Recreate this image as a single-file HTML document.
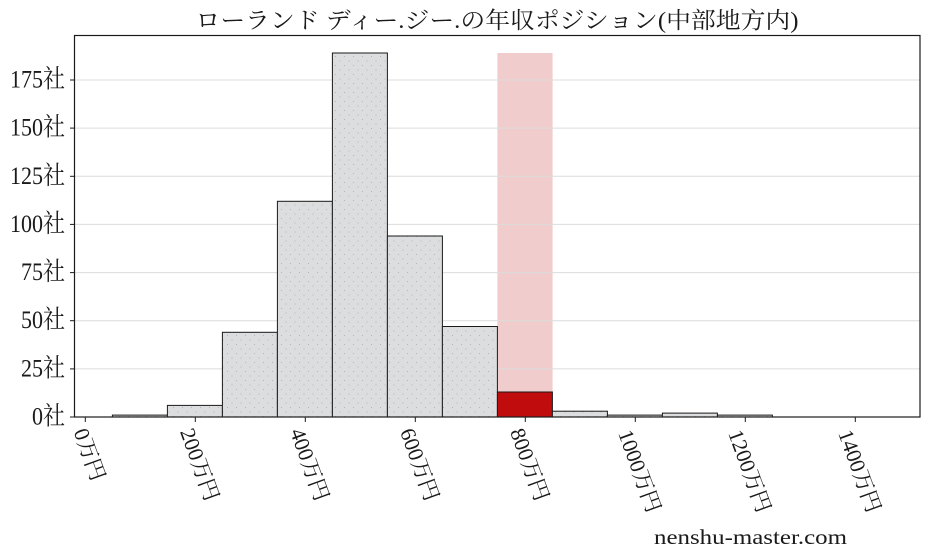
<!DOCTYPE html>
<html>
<head>
<meta charset="utf-8">
<style>
  html, body { margin:0; padding:0; background:#ffffff; }
  svg { display:block; }
  text { font-family: "Liberation Serif", "Noto Serif CJK SC", serif; fill:#1a1a1a; }
</style>
</head>
<body>
<svg width="928" height="557" viewBox="0 0 928 557" xmlns="http://www.w3.org/2000/svg">
  <defs>
    <pattern id="dots" width="9" height="9" patternUnits="userSpaceOnUse">
      <rect width="9" height="9" fill="#dcdddf"/>
      <rect x="2" y="2" width="1" height="1" fill="#b4b5b8"/>
      <rect x="6.5" y="6.5" width="1" height="1" fill="#b4b5b8"/>
    </pattern>
  </defs>

  <!-- title -->
  <text x="497" y="28" font-size="23" text-anchor="middle" textLength="603" lengthAdjust="spacingAndGlyphs">ローランド ディー.ジー.の年収ポジション(中部地方内)</text>

  <!-- highlight span -->
  <rect x="497.4" y="53" width="55.2" height="364" fill="#f0cccc"/>

  <!-- gridlines -->
  <g stroke="#dcdcdc" stroke-width="1">
    <line x1="75" x2="920" y1="368.9" y2="368.9"/>
    <line x1="75" x2="920" y1="320.7" y2="320.7"/>
    <line x1="75" x2="920" y1="272.6" y2="272.6"/>
    <line x1="75" x2="920" y1="224.4" y2="224.4"/>
    <line x1="75" x2="920" y1="176.3" y2="176.3"/>
    <line x1="75" x2="920" y1="128.1" y2="128.1"/>
    <line x1="75" x2="920" y1="80.0" y2="80.0"/>
  </g>

  <!-- bars -->
  <g stroke="#1a1a1a" stroke-width="1">
    <rect x="112.4" y="415.1" width="55" height="1.9" fill="url(#dots)"/>
    <rect x="167.4" y="405.4" width="55" height="11.6" fill="url(#dots)"/>
    <rect x="222.4" y="332.3" width="55" height="84.7" fill="url(#dots)"/>
    <rect x="277.4" y="201.3" width="55" height="215.7" fill="url(#dots)"/>
    <rect x="332.4" y="53.0" width="55" height="364.0" fill="url(#dots)"/>
    <rect x="387.4" y="236.0" width="55" height="181.0" fill="url(#dots)"/>
    <rect x="442.4" y="326.5" width="55" height="90.5" fill="url(#dots)"/>
    <rect x="497.4" y="392.0" width="55" height="25.0" fill="#c00c0c"/>
    <rect x="552.4" y="411.2" width="55" height="5.8" fill="url(#dots)"/>
    <rect x="607.4" y="415.1" width="55" height="1.9" fill="url(#dots)"/>
    <rect x="662.4" y="413.1" width="55" height="3.9" fill="url(#dots)"/>
    <rect x="717.4" y="415.1" width="55" height="1.9" fill="url(#dots)"/>
  </g>

  <!-- axes frame -->
  <rect x="74.5" y="35.5" width="845.5" height="381.5" fill="none" stroke="#1a1a1a" stroke-width="1.2"/>

  <!-- y ticks -->
  <g stroke="#1a1a1a" stroke-width="1">
    <line x1="70" x2="74" y1="417" y2="417"/>
    <line x1="70" x2="74" y1="368.9" y2="368.9"/>
    <line x1="70" x2="74" y1="320.7" y2="320.7"/>
    <line x1="70" x2="74" y1="272.6" y2="272.6"/>
    <line x1="70" x2="74" y1="224.4" y2="224.4"/>
    <line x1="70" x2="74" y1="176.3" y2="176.3"/>
    <line x1="70" x2="74" y1="128.1" y2="128.1"/>
    <line x1="70" x2="74" y1="80.0" y2="80.0"/>
  </g>
  <g font-size="22" text-anchor="end" dominant-baseline="central">
    <text transform="translate(65 417) scale(1 1.15)">0社</text>
    <text transform="translate(65 368.9) scale(1 1.15)">25社</text>
    <text transform="translate(65 320.7) scale(1 1.15)">50社</text>
    <text transform="translate(65 272.6) scale(1 1.15)">75社</text>
    <text transform="translate(65 224.4) scale(1 1.15)">100社</text>
    <text transform="translate(65 176.3) scale(1 1.15)">125社</text>
    <text transform="translate(65 128.1) scale(1 1.15)">150社</text>
    <text transform="translate(65 80.0) scale(1 1.15)">175社</text>
  </g>

  <!-- x ticks -->
  <g stroke="#1a1a1a" stroke-width="1">
    <line x1="85.3" x2="85.3" y1="417" y2="422"/>
    <line x1="195.3" x2="195.3" y1="417" y2="422"/>
    <line x1="305.3" x2="305.3" y1="417" y2="422"/>
    <line x1="415.3" x2="415.3" y1="417" y2="422"/>
    <line x1="525.3" x2="525.3" y1="417" y2="422"/>
    <line x1="635.3" x2="635.3" y1="417" y2="422"/>
    <line x1="745.3" x2="745.3" y1="417" y2="422"/>
    <line x1="855.3" x2="855.3" y1="417" y2="422"/>
  </g>
  <g font-size="21.5" text-anchor="middle" dominant-baseline="central">
    <text x="89.3" y="454.5" transform="rotate(70 89.3 454.5)">0万円</text>
    <text x="199.3" y="464.5" transform="rotate(70 199.3 464.5)">200万円</text>
    <text x="309.3" y="464.5" transform="rotate(70 309.3 464.5)">400万円</text>
    <text x="419.3" y="464.5" transform="rotate(70 419.3 464.5)">600万円</text>
    <text x="529.3" y="464.5" transform="rotate(70 529.3 464.5)">800万円</text>
    <text x="639.3" y="471" transform="rotate(70 639.3 471)">1000万円</text>
    <text x="749.3" y="471" transform="rotate(70 749.3 471)">1200万円</text>
    <text x="859.3" y="471" transform="rotate(70 859.3 471)">1400万円</text>
  </g>

  <!-- watermark -->
  <text x="654" y="544" font-size="21" textLength="193" lengthAdjust="spacingAndGlyphs">nenshu-master.com</text>
</svg>
</body>
</html>
